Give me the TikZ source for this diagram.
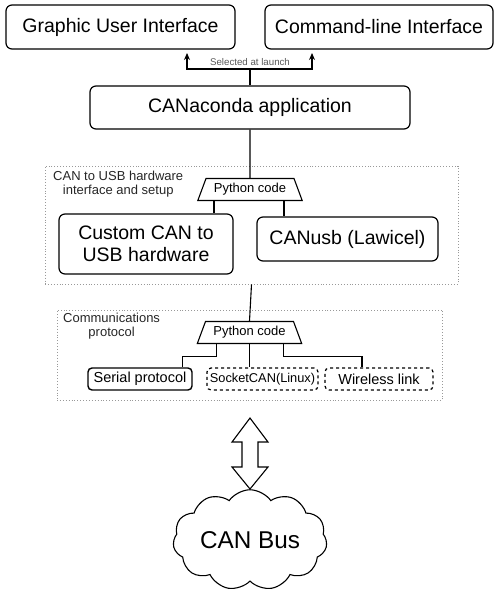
\documentclass[tikz,border=0pt]{standalone}
\usepackage{fontspec}
\setmainfont{Liberation Sans}
\usetikzlibrary{shapes.geometric,shapes.symbols,arrows.meta}

\begin{document}
\begin{tikzpicture}[x=1pt, y=-1pt,
    every node/.style={font=\fontsize{19.5}{22}\selectfont},
    box/.style={draw, line width=1.2pt, rounded corners=6pt, inner sep=2pt, align=center},
    smallbox/.style={box, rounded corners=4pt, minimum height=22, font=\fontsize{14.5}{16}\selectfont},
    pycode/.style={draw, line width=1.1pt, trapezium, trapezium stretches=true,
        trapezium left angle=61, trapezium right angle=61,
        minimum width=105, minimum height=22, inner sep=0pt, font=\fontsize{13}{15}\selectfont},
    frame/.style={draw=gray!80, dotted, line width=0.9pt},
    framelabel/.style={anchor=north west, inner sep=0pt, text=black!85,
        font=\fontsize{13}{14.5}\selectfont},
    link/.style={line width=1.1pt}]

    \useasboundingbox (0,0) rectangle (500,600);

    % --- Interfacce in alto ---
    \node[box, minimum width=229, minimum height=44] (gui) at (120.5,27) {Graphic User Interface};
    \node[box, minimum width=228, minimum height=44] (cli) at (379,27) {Command-line Interface};

    % --- Applicazione ---
    \node[box, minimum width=320, minimum height=43] (app) at (250,107.5) {CANaconda application};

    \coordinate (split) at (250,69);
    \coordinate (guiin) at (187,53);
    \coordinate (cliin) at (312,53);
    \draw[link] (app.north) -- (split);
    \draw[link, -{Stealth[length=7pt,width=6pt]}] (split) -| (guiin);
    \draw[link, -{Stealth[length=7pt,width=6pt]}] (split) -| (cliin);
    \node[text=gray!70!black, font=\fontsize{9.7}{11}\selectfont] (launch) at (250,62) {Selected at launch};

    % --- Hardware CAN/USB ---
    \node[frame, minimum width=413, minimum height=118] (hwframe) at (251.5,225) {};
    \node[framelabel] (hwlabel) at (53,170)
        {\begin{tabular}{@{}c@{}}CAN to USB hardware\\interface and setup\end{tabular}};
    \node[pycode] (py1) at (250,189.5) {Python code};
    \node[box, minimum width=174, minimum height=60] (custom) at (146,244) {Custom CAN to\\USB hardware};
    \node[box, minimum width=181, minimum height=44] (canusb) at (347.5,239) {CANusb (Lawicel)};

    \draw[link] (app.south) -- (py1.north);
    \draw[link] ([xshift=17pt]py1.bottom left corner) -- ([xshift=17pt]py1.bottom left corner |- custom.north);
    \draw[link] ([xshift=-19pt]py1.bottom right corner) -- ([xshift=-19pt]py1.bottom right corner |- canusb.north);

    % --- Protocollo di comunicazione ---
    \node[frame, minimum width=385, minimum height=90] (protoframe) at (249.5,355) {};
    \node[framelabel] (protolabel) at (63,312)
        {\begin{tabular}{@{}c@{}}Communications\\protocol\end{tabular}};
    \node[pycode] (py2) at (249.5,332.5) {Python code};
    \node[smallbox, line width=1.4pt, minimum width=104] (serial) at (140,379) {Serial protocol};
    \node[smallbox, dashed, minimum width=111, font=\fontsize{12.8}{15}\selectfont] (socket) at (262.5,379) {SocketCAN(Linux)};
    \node[smallbox, dashed, minimum width=108] (wireless) at (379,379) {Wireless link};

    \draw[link] (hwframe.south) -- (py2.north);
    \draw[link] ([xshift=20pt]py2.bottom left corner) -- ++(0,12) -| ([xshift=-10pt]serial.north east);
    \draw[link] (py2.south) -- (py2.south |- socket.north);
    \draw[link] ([xshift=-19pt]py2.bottom right corner) -- ++(0,12) -| ([xshift=-17pt]wireless.north);

    % --- Freccia doppia e bus ---
    \draw[line width=1.1pt] (250,418) -- (268,442) -- (258,442) -- (258,467) -- (268,467)
        -- (250,489) -- (232,467) -- (242,467) -- (242,442) -- (232,442) -- cycle;
    \node[cloud, draw, line width=1.1pt, cloud puffs=11, cloud puff arc=110, aspect=1.7,
        minimum width=154, minimum height=90, inner sep=0pt, font=\fontsize{24.3}{28}\selectfont]
        (bus) at (250,540) {CAN Bus};

\end{tikzpicture}
\end{document}
